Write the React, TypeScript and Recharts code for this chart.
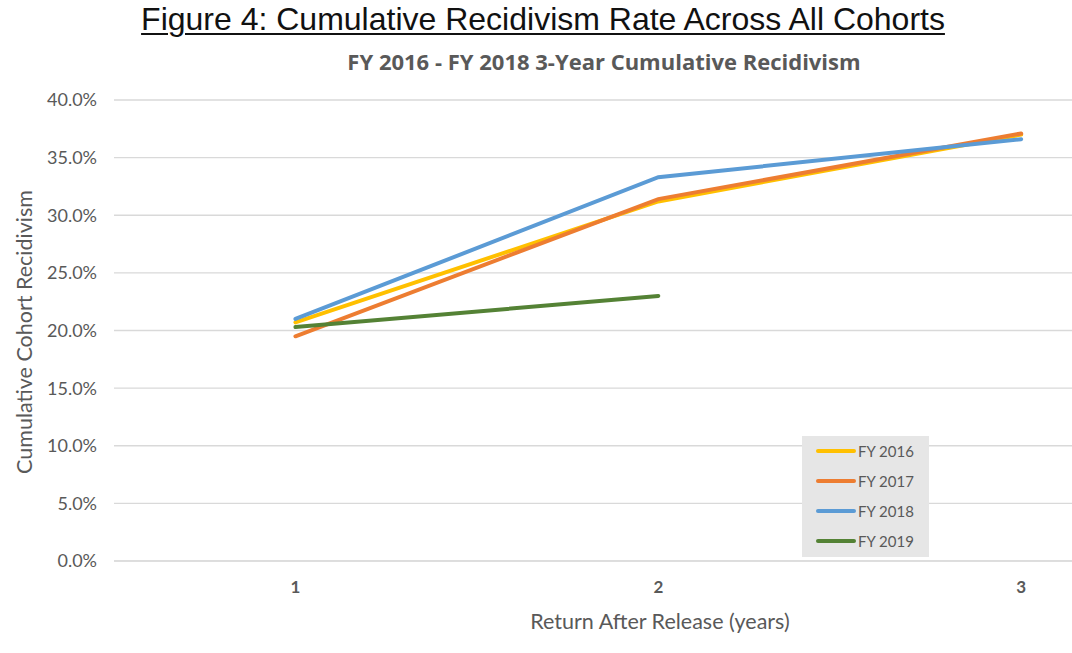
import React from "react";
import { LineChart, Line, XAxis, YAxis, CartesianGrid } from "recharts";

const years = [1, 2, 3];
const fy2016 = [20.7, 31.2, 37.0];
const fy2017 = [19.5, 31.4, 37.1];
const fy2018 = [21.0, 33.3, 36.6];
const fy2019: (number | null)[] = [20.3, 23.0, null];
const yTicks = [0, 5, 10, 15, 20, 25, 30, 35, 40];

const seriesDefs = [
  { key: "FY 2016", values: fy2016, color: "#FFC000" },
  { key: "FY 2017", values: fy2017, color: "#ED7D31" },
  { key: "FY 2018", values: fy2018, color: "#5B9BD5" },
  { key: "FY 2019", values: fy2019, color: "#548235" },
];

const data = years.map((y, i) => {
  const row: Record<string, number | null> = { year: y };
  seriesDefs.forEach((s) => {
    row[s.key] = s.values[i];
  });
  return row;
});

const FONT = "Lato, 'Open Sans', sans-serif";
const GRAY = "#595959";

const LegendBox = () => (
  <div
    style={{
      position: "absolute",
      left: 802,
      top: 436,
      background: "#e6e6e6",
      width: 127,
      height: 121,
      boxSizing: "border-box",
      paddingTop: 0,
      fontFamily: FONT,
    }}
  >
    {seriesDefs.map((s) => (
      <div key={s.key} style={{ display: "flex", alignItems: "center", height: 30 }}>
        <div style={{ marginLeft: 14, width: 40, height: 4, borderRadius: 2, background: s.color }} />
        <span style={{ marginLeft: 2, fontSize: 15, color: GRAY }}>{s.key}</span>
      </div>
    ))}
  </div>
);

export default function App() {
  return (
    <div style={{ position: "absolute", left: 0, top: 0, width: 1072, height: 653, background: "#fff" }}>
      <div
        style={{
          position: "absolute",
          left: 0,
          width: 1086,
          top: 1,
          textAlign: "center",
          fontFamily: "'Liberation Sans', Arial, sans-serif",
          fontSize: 32,
          color: "#111",
          textDecoration: "underline",
          textDecorationThickness: 2,
          textUnderlineOffset: 3,
        }}
      >
        Figure 4: Cumulative Recidivism Rate Across All Cohorts
      </div>
      <div
        style={{
          position: "absolute",
          left: 0,
          width: 1208,
          top: 46,
          textAlign: "center",
          fontFamily: "'Open Sans', sans-serif",
          fontWeight: 700,
          fontSize: 22,
          color: GRAY,
        }}
      >
        FY 2016 - FY 2018 3-Year Cumulative Recidivism
      </div>
      <LineChart
        width={1072}
        height={653}
        data={data}
        margin={{ top: 100, right: 0, bottom: 62, left: 0 }}
        style={{ position: "absolute", left: 0, top: 0 }}
      >
        <CartesianGrid horizontal vertical={false} stroke="#d9d9d9" strokeWidth={1.3} />
        <XAxis
          dataKey="year"
          type="number"
          height={30}
          domain={[0.5, 3.14]}
          ticks={years}
          allowDataOverflow
          tickLine={false}
          axisLine={{ stroke: "#d9d9d9" }}
          tickMargin={14}
          tick={{ fill: GRAY, fontSize: 17, fontWeight: 700, fontFamily: FONT }}
          label={{
            content: () => (
              <text x={660} y={629} textAnchor="middle" fill={GRAY} fontSize={21.5} fontFamily={FONT}>
                Return After Release (years)
              </text>
            ),
          }}
        />
        <YAxis
          width={114}
          domain={[0, 40]}
          ticks={yTicks}
          interval={0}
          tickLine={false}
          axisLine={false}
          tickMargin={11}
          tickFormatter={(v: number) => `${v.toFixed(1)}%`}
          tick={{ fill: GRAY, fontSize: 18, fontFamily: FONT }}
          label={{
            content: () => (
              <text
                x={32}
                y={332}
                textAnchor="middle"
                fill={GRAY}
                fontSize={21.5}
                fontFamily={FONT}
                transform="rotate(-90 32 332)"
              >
                Cumulative Cohort Recidivism
              </text>
            ),
          }}
        />
        {seriesDefs.map((s) => (
          <Line
            key={s.key}
            dataKey={s.key}
            stroke={s.color}
            strokeWidth={4}
            dot={false}
            activeDot={false}
            type="linear"
            strokeLinecap="round"
            isAnimationActive={false}
          />
        ))}
      </LineChart>
      <LegendBox />
    </div>
  );
}
